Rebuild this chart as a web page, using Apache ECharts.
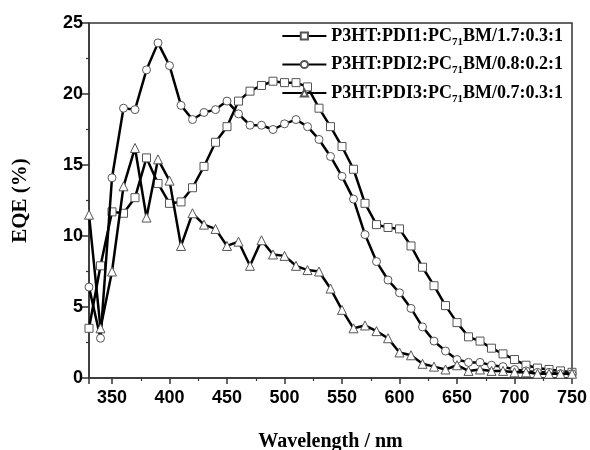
<!DOCTYPE html>
<html>
<head>
<meta charset="utf-8">
<script src="https://cdn.jsdelivr.net/npm/echarts@6/dist/echarts.min.js"></script>
<style>
  html, body { margin: 0; padding: 0; background: #fff; }
  #chart { width: 590px; height: 450px; }
</style>
</head>
<body>
<div id="chart"></div>
<script>
// Wavelength grid (nm), one reading every 10 nm
const wavelengths = [330, 340, 350, 360, 370, 380, 390, 400, 410, 420, 430, 440, 450, 460, 470, 480, 490, 500,
  510, 520, 530, 540, 550, 560, 570, 580, 590, 600, 610, 620, 630, 640, 650, 660, 670, 680, 690, 700,
  710, 720, 730, 740, 750];

// EQE (%) for each blend
const eqePdi1 = [3.5, 7.9, 11.7, 11.6, 12.7, 15.5, 13.7, 12.3, 12.4, 13.4, 14.9, 16.6, 17.7, 19.5, 20.2, 20.6, 20.9, 20.8,
  20.8, 20.5, 19.0, 17.7, 16.3, 14.7, 12.3, 10.8, 10.6, 10.5, 9.3, 7.8, 6.5, 5.1, 3.9, 2.9, 2.6, 2.1, 1.7, 1.3,
  0.9, 0.7, 0.6, 0.5, 0.4];
const eqePdi2 = [6.4, 2.8, 14.1, 19.0, 18.9, 21.7, 23.6, 22.0, 19.2, 18.2, 18.7, 18.9, 19.5, 18.6, 17.8, 17.8, 17.5, 17.9,
  18.2, 17.7, 16.8, 15.6, 14.2, 12.6, 10.1, 8.2, 6.9, 6.0, 4.9, 3.6, 2.6, 1.9, 1.3, 1.1, 1.1, 0.9, 0.8, 0.6,
  0.5, 0.4, 0.4, 0.3, 0.3];
const eqePdi3 = [11.5, 3.5, 7.5, 13.5, 16.2, 11.3, 15.4, 13.9, 9.3, 11.6, 10.8, 10.5, 9.3, 9.6, 7.9, 9.7, 8.7, 8.6,
  7.9, 7.6, 7.5, 6.3, 4.8, 3.5, 3.7, 3.3, 2.8, 1.8, 1.6, 1.0, 0.8, 0.6, 0.9, 0.5, 0.6, 0.5, 0.5, 0.4,
  0.4, 0.3, 0.3, 0.3, 0.3];

// Legend labels: [before subscript, subscript, after subscript]
const seriesLabels = [
  ['P3HT:PDI1:PC', '71', 'BM/1.7:0.3:1'],
  ['P3HT:PDI2:PC', '71', 'BM/0.8:0.2:1'],
  ['P3HT:PDI3:PC', '71', 'BM/0.7:0.3:1']
];
const seriesValues = [eqePdi1, eqePdi2, eqePdi3];
const seriesSymbols = ['rect', 'circle', 'triangle'];

const names = seriesLabels.map(p => p.join(''));
const serif = '"Liberation Serif", "Times New Roman", serif';
const sans = '"Liberation Sans", Arial, sans-serif';

const chart = echarts.init(document.getElementById('chart'), null, { renderer: 'canvas' });

const series = seriesValues.map((vals, i) => ({
  name: names[i],
  type: 'line',
  data: wavelengths.map((w, k) => [w, vals[k]]),
  symbol: seriesSymbols[i],
  symbolSize: seriesSymbols[i] === 'triangle' ? 9 : 8,
  showAllSymbol: true,
  lineStyle: { color: '#000', width: 2.5 },
  itemStyle: { color: '#fff', borderColor: '#555', borderWidth: 1 },
  emphasis: { disabled: true },
  z: 2 + i,
  animation: false
}));

chart.setOption({
  animation: false,
  grid: {
    left: 89, right: 18, top: 23, bottom: 72,
    containLabel: false,
    outerBoundsMode: 'none',
    show: true, borderColor: '#333', borderWidth: 1.5, backgroundColor: 'transparent'
  },
  legend: {
    data: names,
    orient: 'vertical',
    right: 22,
    top: 22,
    itemWidth: 44,
    itemHeight: 9,
    itemGap: 8,
    formatter: function (name) {
      const idx = names.indexOf(name);
      const p = seriesLabels[idx];
      return '{t|' + p[0] + '}{s|' + p[1] + '}{t|' + p[2] + '}';
    },
    textStyle: {
      color: '#000',
      rich: {
        t: { fontFamily: serif, fontWeight: 'bold', fontSize: 18, color: '#000' },
        s: { fontFamily: serif, fontWeight: 'bold', fontSize: 11, color: '#000', padding: [12, 0, 0, 0] }
      }
    }
  },
  xAxis: {
    type: 'value',
    min: 330,
    max: 750,
    minInterval: 50,
    maxInterval: 50,
    name: 'Wavelength / nm',
    nameLocation: 'middle',
    nameGap: 54,
    nameTextStyle: { fontFamily: serif, fontWeight: 'bold', fontSize: 20, color: '#000' },
    axisLine: { show: true, lineStyle: { color: '#333', width: 1.5 } },
    axisTick: { show: true, inside: false, length: 6, lineStyle: { color: '#333', width: 1.5 } },
    minorTick: { show: true, splitNumber: 2, length: 3, lineStyle: { color: '#333', width: 1.2 } },
    axisLabel: {
      showMinLabel: false,
      margin: 11,
      fontFamily: sans, fontWeight: 'bold', fontSize: 18, color: '#000',
      formatter: v => (v % 50 === 0 ? String(v) : '')
    },
    splitLine: { show: false }
  },
  yAxis: {
    type: 'value',
    min: 0,
    max: 25,
    interval: 5,
    name: 'EQE (%)',
    nameLocation: 'middle',
    nameRotate: 90,
    nameGap: 58,
    nameTextStyle: { fontFamily: serif, fontWeight: 'bold', fontSize: 21, color: '#000' },
    axisLine: { show: true, lineStyle: { color: '#333', width: 1.5 } },
    axisTick: { show: true, inside: false, length: 7, lineStyle: { color: '#333', width: 1.5 } },
    minorTick: { show: true, splitNumber: 2, length: 3, lineStyle: { color: '#333', width: 1.2 } },
    axisLabel: { margin: 6, fontFamily: sans, fontWeight: 'bold', fontSize: 18, color: '#000' },
    splitLine: { show: false }
  },
  series: series
});
</script>
</body>
</html>
